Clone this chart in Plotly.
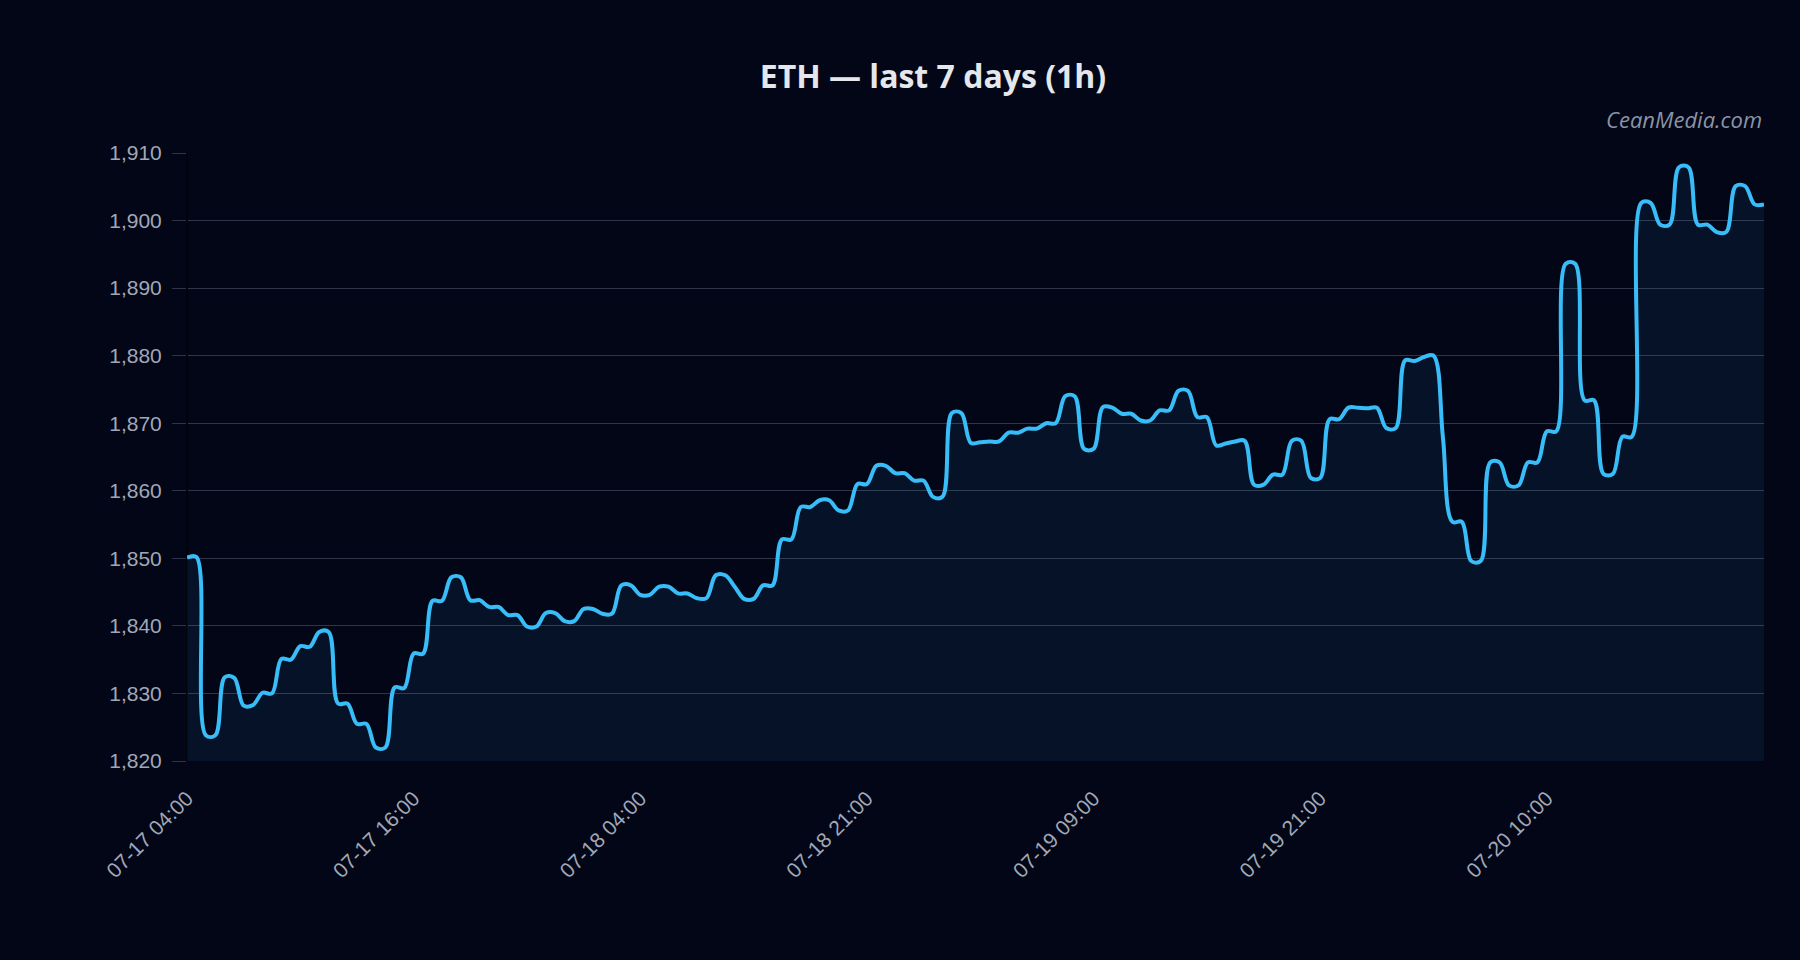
import plotly.graph_objects as go

# ETH hourly closes (168 points)
prices = [
    1850.1, 1850.2, 1823.8, 1823.8, 1832.4, 1832.3, 1828.2, 1828.3, 1830.1, 1830.0,
    1835.1, 1835.0, 1837.0, 1836.9, 1839.1, 1839.1, 1828.5, 1828.5, 1825.5, 1825.5,
    1822.0, 1822.0, 1830.9, 1830.8, 1835.9, 1835.9, 1843.7, 1843.7, 1847.2, 1847.2,
    1843.8, 1843.8, 1842.8, 1842.8, 1841.6, 1841.6, 1839.9, 1839.9, 1841.9, 1841.9,
    1840.7, 1840.7, 1842.5, 1842.5, 1841.8, 1841.8, 1846.0, 1846.0, 1844.6, 1844.6,
    1845.8, 1845.8, 1844.8, 1844.8, 1844.1, 1844.1, 1847.5, 1847.5, 1845.8, 1844.0,
    1844.0, 1846.0, 1846.0, 1852.8, 1852.8, 1857.6, 1857.6, 1858.6, 1858.6, 1857.1,
    1857.1, 1861.0, 1861.0, 1863.7, 1863.7, 1862.6, 1862.6, 1861.5, 1861.5, 1859.1,
    1859.1, 1871.5, 1871.5, 1867.1, 1867.2, 1867.3, 1867.3, 1868.6, 1868.6, 1869.2,
    1869.2, 1870.0, 1870.0, 1874.0, 1874.0, 1866.2, 1866.2, 1872.4, 1872.3, 1871.4,
    1871.4, 1870.4, 1870.4, 1871.9, 1871.9, 1874.8, 1874.8, 1870.9, 1870.9, 1866.7,
    1867.0, 1867.3, 1867.4, 1860.9, 1860.9, 1862.4, 1862.4, 1867.4, 1867.4, 1861.9,
    1861.9, 1870.6, 1870.6, 1872.3, 1872.3, 1872.2, 1872.3, 1869.3, 1869.3, 1879.3,
    1879.2, 1879.8, 1880.0, 1867.9, 1855.4, 1855.4, 1849.6, 1849.6, 1864.2, 1864.2,
    1860.8, 1860.8, 1864.2, 1864.2, 1868.8, 1868.8, 1893.6, 1893.6, 1873.4, 1873.4,
    1862.5, 1862.5, 1868.0, 1868.0, 1902.6, 1902.6, 1899.4, 1899.4, 1907.9, 1907.9,
    1899.4, 1899.4, 1898.3, 1898.3, 1905.1, 1905.1, 1902.4, 1902.4,
]

tick_labels = ["07-17 04:00", "07-17 16:00", "07-18 04:00", "07-18 21:00",
               "07-19 09:00", "07-19 21:00", "07-20 10:00"]

x_idx = list(range(len(prices)))
tick_step = 24
tick_vals = list(range(0, len(prices), tick_step))[:len(tick_labels)]

BG = "#020617"
GRID = "rgba(148,163,184,0.3)"
TICKC = "#a0a8b6"

fig = go.Figure()
fig.add_trace(go.Scatter(
    x=x_idx, y=prices, mode="lines",
    line=dict(color="#38bdf8", width=4, shape="spline"),
    fill="tozeroy", fillcolor="rgba(56,189,248,0.07)",
    hoverinfo="skip", showlegend=False,
))

fig.update_layout(
    width=1800, height=960,
    paper_bgcolor=BG, plot_bgcolor=BG,
    margin=dict(l=187, r=36, t=153, b=199),
    title=dict(text="<b>ETH — last 7 days (1h)</b>", x=933/1800, xanchor="center",
               y=1 - 77/960, yanchor="middle",
               font=dict(family="Open Sans", size=32, color="#e5e7eb")),
    font=dict(family="Liberation Sans, Arial", size=21, color=TICKC),
    xaxis=dict(range=[0, len(prices) - 1], tickmode="array", tickvals=tick_vals,
               ticktext=tick_labels, tickangle=-45, showgrid=False,
               zeroline=True, zerolinecolor="#01030a", zerolinewidth=2,
               showline=False, ticks="", ticklabelstandoff=20,
               tickfont=dict(size=21, color=TICKC)),
    yaxis=dict(range=[1820, 1910], dtick=10, tickformat=",", showgrid=True,
               gridcolor=GRID, gridwidth=1, zeroline=False, ticks="outside",
               ticklen=14, tickcolor=GRID, ticklabelstandoff=6,
               tickfont=dict(size=21, color=TICKC)),
    annotations=[dict(text="CeanMedia.com", xref="paper", yref="paper", x=1, y=1.056,
                      xanchor="right", yanchor="middle", showarrow=False,
                      font=dict(family="Open Sans", size=22, color="#8a94a6", style="italic"))],
)

fig.write_html("out.html")
